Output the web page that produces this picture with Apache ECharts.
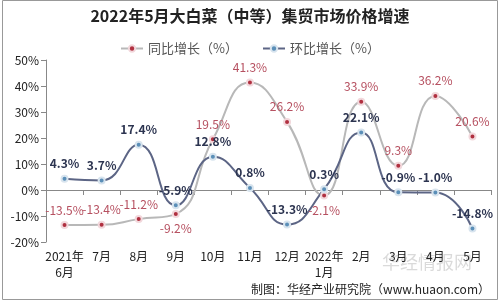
<!DOCTYPE html>
<html>
<head>
<meta charset="utf-8">
<script src="https://cdn.jsdelivr.net/npm/echarts@6/dist/echarts.min.js"></script>
<style>
  html, body { margin: 0; padding: 0; background: #fff; }
  #chart { width: 500px; height: 300px; }
</style>
</head>
<body>
<div id="chart"></div>
<script>
const months = ['2021年\n6月', '7月', '8月', '9月', '10月', '11月', '12月', '2022年\n1月', '2月', '3月', '4月', '5月']
const yoy = [-13.5, -13.4, -11.2, -9.2, 19.5, 41.3, 26.2, -2.1, 33.9, 9.3, 36.2, 20.6]
const mom = [4.3, 3.7, 17.4, -5.9, 12.8, 0.8, -13.3, 0.3, 22.1, -0.9, -1.0, -14.8]

// 个别标签位置和原图保持一致
const yoyPos = ['top', 'top', 'top', 'bottom', 'top', 'top', 'top', 'bottom', 'top', 'top', 'top', 'top']
const momPos = ['top', 'top', 'top', 'top', 'top', 'top', 'top', 'top', 'top', 'top', 'top', 'top']

const font = '"Noto Sans CJK SC", sans-serif'
const chart = echarts.init(document.getElementById('chart'))

chart.setOption({
  animation: false,
  textStyle: { fontFamily: font },
  title: {
    text: '2022年5月大白菜（中等）集贸市场价格增速',
    left: 'center',
    top: 3,
    textStyle: { fontSize: 16, fontWeight: 'bold', color: '#222', fontFamily: font }
  },
  legend: {
    top: 37,
    left: 'center',
    itemGap: 24,
    itemWidth: 22,
    itemHeight: 8,
    textStyle: { fontSize: 13, color: '#555' },
    data: ['同比增长（%）', '环比增长（%）']
  },
  grid: { left: 46, right: 9, top: 60, bottom: 58 },
  xAxis: {
    type: 'category',
    data: months,
    boundaryGap: true,
    axisLine: { lineStyle: { color: '#888' } },
    axisTick: { show: true, alignWithLabel: false, lineStyle: { color: '#888' } },
    axisLabel: { color: '#222', fontSize: 12, interval: 0, lineHeight: 16, margin: 6 }
  },
  yAxis: {
    type: 'value',
    min: -20,
    max: 50,
    interval: 10,
    axisLine: { show: true, lineStyle: { color: '#888' } },
    axisTick: { show: true, lineStyle: { color: '#888' } },
    splitLine: { show: false },
    axisLabel: { color: '#222', fontSize: 12, margin: 7, formatter: '{value}%' }
  },
  graphic: [
    {
      type: 'rect',
      shape: { x: 2.5, y: 0.5, width: 495, height: 299 },
      style: { fill: 'none', stroke: '#999', lineWidth: 1 }
    },
    {
      type: 'text',
      right: 10,
      bottom: 5,
      style: { text: '制图：华经产业研究院（www.huaon.com）', fontSize: 12, fill: '#222', fontFamily: font }
    },
    {
      type: 'text',
      left: 382,
      top: 253,
      style: { text: '华经情报网', fontSize: 18, fill: 'rgba(150,150,150,0.35)', fontFamily: font }
    }
  ],
  series: [
    {
      name: '同比增长（%）',
      type: 'line',
      smooth: 0.5,
      data: yoy.map((v, i) => ({ value: v, label: { position: yoyPos[i] } })),
      symbol: 'circle',
      symbolSize: 6,
      itemStyle: { color: '#b03040', borderColor: '#f2d8dc', borderWidth: 2 },
      lineStyle: { color: '#b8b8b8', width: 2 },
      label: {
        show: true,
        fontSize: 12,
        color: '#b65060',
        formatter: p => p.value.toFixed(1) + '%'
      }
    },
    {
      name: '环比增长（%）',
      type: 'line',
      smooth: 0.5,
      data: mom.map((v, i) => ({ value: v, label: { position: momPos[i] } })),
      symbol: 'circle',
      symbolSize: 6,
      itemStyle: { color: '#5b8fb8', borderColor: '#d8e4ee', borderWidth: 2 },
      lineStyle: { color: '#5c6585', width: 2 },
      label: {
        show: true,
        fontSize: 12,
        fontWeight: 'bold',
        color: '#2c3450',
        formatter: p => p.value.toFixed(1) + '%'
      }
    }
  ]
})
</script>
</body>
</html>
